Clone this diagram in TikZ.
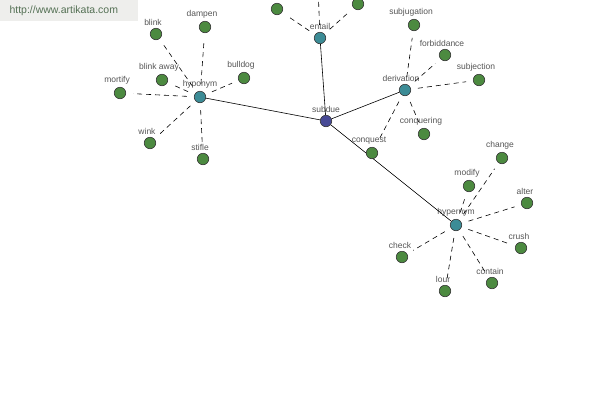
\documentclass[tikz,border=0pt]{standalone}
\usepackage{fontspec}
\setmainfont{Liberation Sans}
\usepackage{xcolor}
\definecolor{akLeaf}{RGB}{76,138,64}
\definecolor{akHub}{RGB}{60,140,150}
\definecolor{akRoot}{RGB}{72,74,150}
\definecolor{akText}{RGB}{85,85,85}
\definecolor{akMark}{RGB}{238,238,236}
\definecolor{akUrl}{RGB}{84,112,84}
\usetikzlibrary{positioning}

\begin{document}
\begin{tikzpicture}[
  x=1pt,y=-1pt,
  leaf/.style={circle,draw=black!80,fill=akLeaf,inner sep=0pt,minimum size=11.5pt,line width=0.6pt},
  hub/.style={leaf,fill=akHub},
  root/.style={leaf,fill=akRoot},
  lbl/.style={font=\fontsize{8.5}{9}\selectfont,text=akText,inner sep=0pt},
  rel/.style={black,line width=0.6pt},
  tie/.style={black,dash pattern=on 5pt off 4pt,line width=0.6pt,shorten <=7pt,shorten >=7pt}]

  \useasboundingbox (0,0) rectangle (600,400);

  % watermark
  \fill[akMark] (0,0) rectangle (138,21);
  \node[font=\fontsize{10.5}{11}\selectfont,text=akUrl,anchor=west] (url) at (6,11) {http://www.artikata.com};

  % centre and hubs
  \node[root] (subdue) at (326,121) {};
  \node[lbl,above=2pt of subdue] (subdue-t) {subdue};
  \node[hub] (hypo) at (200,97) {};
  \node[lbl,above=2pt of hypo] (hypo-t) {hyponym};
  \node[hub] (entail) at (320,38) {};
  \node[lbl,above=2pt of entail] (entail-t) {entail};
  \node[hub] (deriv) at (405,90) {};
  \node[lbl,above=2pt of deriv,xshift=-4pt] (deriv-t) {derivation};
  \node[hub] (hyper) at (456,225) {};
  \node[lbl,above=2pt of hyper] (hyper-t) {hypernym};

  \foreach \hubname in {hypo,entail,deriv,hyper}
    \draw[rel] (subdue) -- (\hubname);

  % hyponym leaves
  \foreach \i/\px/\py/\txt in {1/156/34/blink,2/205/27/dampen,3/162/80/blink away,4/244/78/bulldog,
                               5/120/93/mortify,6/150/143/wink,7/203/159/stifle}{
    \node[leaf] (hypo\i) at (\px,\py) {};
    \node[lbl,above=2pt of hypo\i,xshift=-3pt] (hypo\i-t) {\txt};
    \draw[tie] (hypo) -- (hypo\i);
  }

  % entail leaves (cut by the top edge)
  \foreach \i/\px/\py in {1/277/9,2/318/-14,3/358/4}{
    \node[leaf] (entail\i) at (\px,\py) {};
    \draw[tie] (entail) -- (entail\i);
  }

  % derivation leaves
  \foreach \i/\px/\py/\txt in {1/414/25/subjugation,2/445/55/forbiddance,3/479/80/subjection,
                               4/424/134/conquering,5/372/153/conquest}{
    \node[leaf] (deriv\i) at (\px,\py) {};
    \node[lbl,above=2pt of deriv\i,xshift=-3pt] (deriv\i-t) {\txt};
    \draw[tie] (deriv) -- (deriv\i);
  }

  % hypernym leaves
  \foreach \i/\px/\py/\txt in {1/502/158/change,2/469/186/modify,3/527/203/alter,4/521/248/crush,
                               5/492/283/contain,6/445/291/lour,7/402/257/check}{
    \node[leaf] (hyper\i) at (\px,\py) {};
    \node[lbl,above=2pt of hyper\i,xshift=-2pt] (hyper\i-t) {\txt};
    \draw[tie] (hyper) -- (hyper\i);
  }
\end{tikzpicture}
\end{document}
